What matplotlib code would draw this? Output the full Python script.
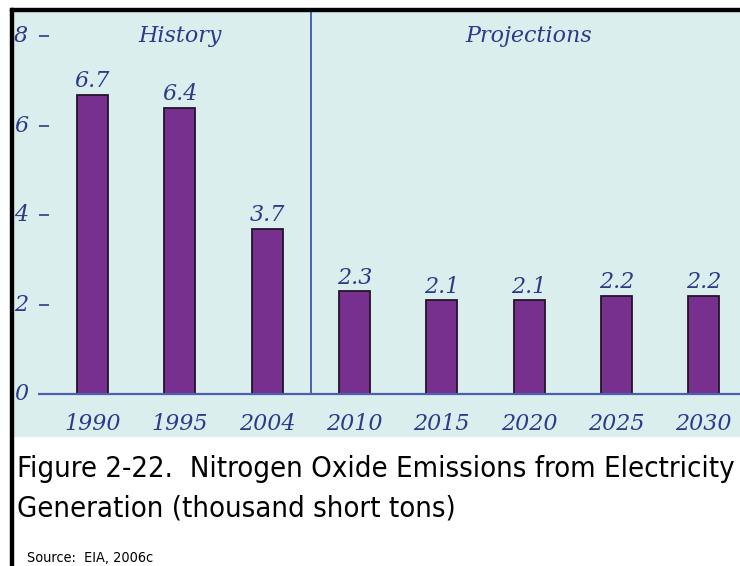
import matplotlib
matplotlib.use("Agg")
import matplotlib.pyplot as plt
from matplotlib.patches import Rectangle

years = ["1990", "1995", "2004", "2010", "2015", "2020", "2025", "2030"]
emissions = [6.7, 6.4, 3.7, 2.3, 2.1, 2.1, 2.2, 2.2]
yticks = [0, 2, 4, 6, 8]
n_history = 3

title_1 = "Figure 2-22.  Nitrogen Oxide Emissions from Electricity"
title_2 = "Generation (thousand short tons)"
source = "Source:  EIA, 2006c"

W, H = 740, 566
panel = "#dbeeee"
purple = "#78308f"
ink = "#2c3a8a"
rule = "#4d5fb0"
serif = ["DejaVu Serif"]
fs = 16

fig = plt.figure(figsize=(W / 100, H / 100), dpi=100)
fig.patch.set_facecolor("white")

# plot panel covers the light cyan area
ax = fig.add_axes([13 / W, 1 - 437 / H, (W - 13) / W, (437 - 11) / H])
ax.set_facecolor(panel)
for s in ax.spines.values():
    s.set_visible(False)
ax.set_xticks([])
ax.set_yticks([])
ax.set_xlim(-0.911, 7.417)
ax.set_ylim(-0.96, 8.57)

x = list(range(len(years)))
ax.bar(x, emissions, width=0.355, color=purple, edgecolor="#24152a",
       linewidth=1.3, zorder=3)

ax.hlines(0, -0.624, 7.417, color=rule, linewidth=1.6, zorder=4)
ax.vlines(n_history - 0.5, 0, 8.57, color=rule, linewidth=1.4, zorder=2)

for xi, v in zip(x, emissions):
    ax.annotate(f"{v:.1f}", (xi, v), xytext=(0, 5.5), textcoords="offset points",
                ha="center", va="baseline", fontsize=fs, style="italic",
                family=serif, color=ink)

for xi, lab in zip(x, years):
    ax.text(xi, -0.8, lab, ha="center", va="baseline", fontsize=fs,
            style="italic", family=serif, color=ink)

pw = W - 13
ylab_tr = ax.get_yaxis_transform()
for t in yticks:
    ax.text(1 / pw, t, str(t), transform=ylab_tr, ha="left", va="center",
            fontsize=fs, style="italic", family=serif, color=ink)
    if t > 0:
        ax.plot([26 / pw, 36 / pw], [t, t], transform=ylab_tr, color=ink,
                linewidth=1.2, solid_capstyle="butt")

ax.text(1, 8.0, "History", ha="center", va="center", fontsize=fs,
        style="italic", family=serif, color=ink)
ax.text(5, 8.0, "Projections", ha="center", va="center", fontsize=fs,
        style="italic", family=serif, color=ink)

# caption below the panel
cap_kw = dict(family="DejaVu Sans", fontstretch="condensed", color="black",
              va="baseline", ha="left")
t1 = fig.text(17 / W, 1 - 477 / H, title_1, fontsize=22, **cap_kw)
t2 = fig.text(17 / W, 1 - 516 / H, title_2, fontsize=22, **cap_kw)
t3 = fig.text(27 / W, 1 - 562 / H, source, fontsize=10, **cap_kw)

r = fig.canvas.get_renderer()
scale = 716 / t1.get_window_extent(r).width
t1.set_fontsize(22 * scale)
t2.set_fontsize(22 * scale)
t3.set_fontsize(10 * 126 / t3.get_window_extent(r).width)

# black frame on the top and left edges
fig.patches.append(Rectangle((10 / W, 1 - 11 / H), 1, 3 / H, transform=fig.transFigure,
                             color="black", zorder=10))
fig.patches.append(Rectangle((10 / W, 0), 3 / W, 1 - 8 / H, transform=fig.transFigure,
                             color="black", zorder=10))

fig.savefig("out.png", dpi=100)
